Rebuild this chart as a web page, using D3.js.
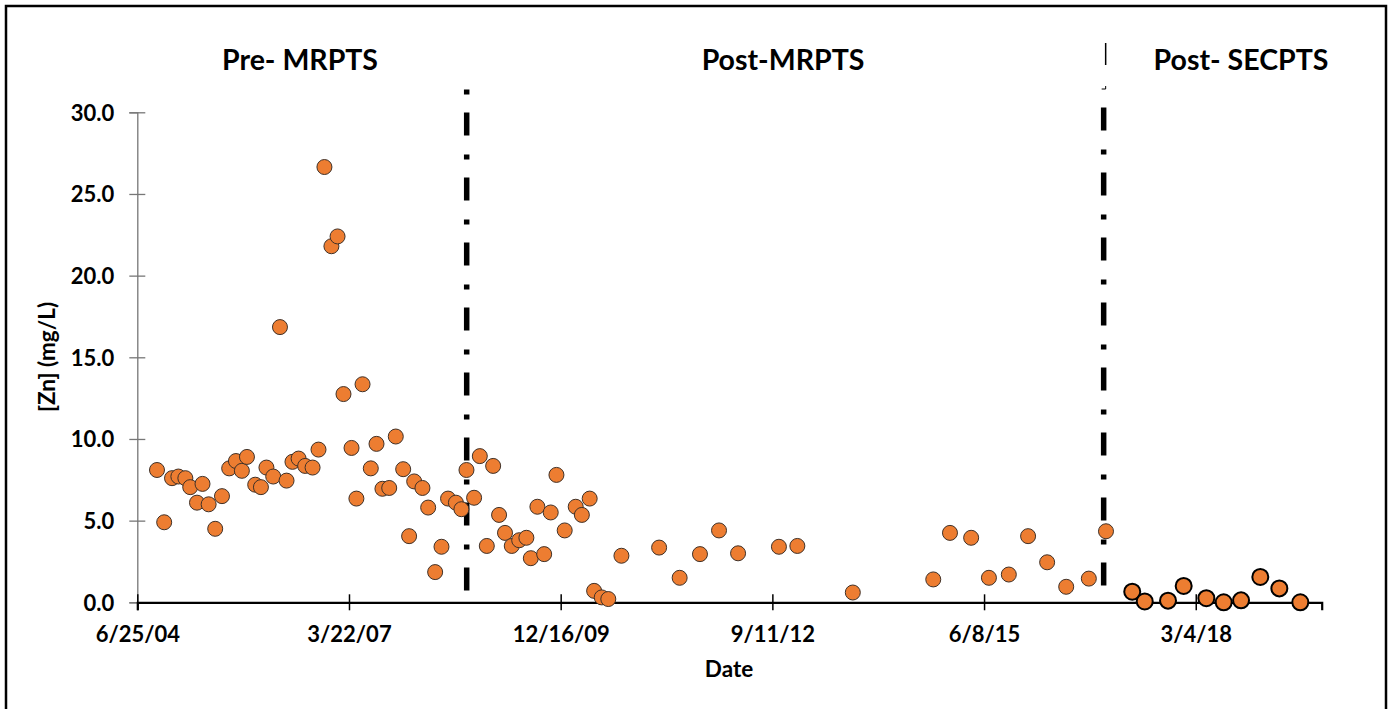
<!DOCTYPE html>
<html>
    <head>
        <meta charset="utf-8">
        <style>
        html, body {
            margin: 0px;
            background: #fff;
        }
        svg {
            display: block;
        }
        text {
            font-family: Lato, "Open Sans", sans-serif;
            font-weight: bold;
            fill: #000;
        }
        </style>
    </head>
    <body>
        <svg class="chart" width="1392" height="709"></svg>
        <script src="https://d3js.org/d3.v7.min.js"></script>
        <script>
            // Pre-MRPTS and Post-MRPTS samples
            var mrptsDates = [
                "2004-09-26", "2004-10-30", "2004-12-06", "2005-01-05", "2005-02-07", "2005-03-02",
                "2005-04-03", "2005-04-29", "2005-05-28", "2005-06-28", "2005-07-30", "2005-09-02",
                "2005-10-04", "2005-11-01", "2005-11-25", "2006-01-03", "2006-01-30", "2006-02-25",
                "2006-03-29", "2006-04-30", "2006-05-31", "2006-06-28", "2006-07-27", "2006-08-27",
                "2006-10-01", "2006-10-29", "2006-11-26", "2006-12-29", "2007-01-27", "2007-02-24",
                "2007-04-03", "2007-04-26", "2007-05-25", "2007-07-03", "2007-07-30", "2007-08-27",
                "2007-09-28", "2007-10-29", "2007-12-03", "2007-12-31", "2008-01-24", "2008-03-03",
                "2008-03-30", "2008-05-02", "2008-06-01", "2008-07-02", "2008-08-08", "2008-09-03",
                "2008-09-27", "2008-11-02", "2008-11-29", "2009-01-01", "2009-01-31", "2009-02-28",
                "2009-03-28", "2009-04-29", "2009-06-03", "2009-07-07", "2009-07-28", "2009-08-28",
                "2009-09-29", "2009-10-30", "2009-11-26", "2010-01-04", "2010-02-25", "2010-03-26",
                "2010-05-02", "2010-05-23", "2010-06-28", "2010-07-29", "2010-09-29", "2011-03-26",
                "2011-07-01", "2011-10-05", "2012-01-03", "2012-04-02", "2012-10-12", "2013-01-07",
                "2013-09-26", "2014-10-11", "2014-12-29", "2015-04-08", "2015-07-01", "2015-10-03",
                "2016-01-02", "2016-04-01", "2016-06-30", "2016-10-15", "2017-01-04"
            ];
            var mrptsZn = [
                8.1, 4.9, 7.6, 7.7, 7.6, 7.05,
                6.1, 7.25, 6.0, 4.5, 6.5, 8.2,
                8.65, 8.05, 8.9, 7.2, 7.05, 8.25,
                7.7, 16.85, 7.45, 8.6, 8.8, 8.35,
                8.25, 9.35, 26.65, 21.8, 22.4, 12.75,
                9.45, 6.35, 13.35, 8.2, 9.7, 6.95,
                7.0, 10.15, 8.15, 4.05, 7.4, 7.0,
                5.8, 1.85, 3.4, 6.35, 6.1, 5.7,
                8.1, 6.4, 8.95, 3.45, 8.35, 5.35,
                4.25, 3.45, 3.8, 3.95, 2.7, 5.85,
                2.95, 5.5, 7.8, 4.4, 5.85, 5.35,
                6.35, 0.7, 0.3, 0.2, 2.85, 3.35,
                1.5, 2.95, 4.4, 3.0, 3.4, 3.45,
                0.6, 1.4, 4.25, 3.95, 1.5, 1.7,
                4.05, 2.45, 0.95, 1.45, 4.35
            ];

            // Post-SECPTS samples
            var secptsDates = [
                "2017-05-08", "2017-07-06", "2017-10-24", "2018-01-06", "2018-04-23",
                "2018-07-14", "2018-10-04", "2019-01-03", "2019-04-03", "2019-07-11"
            ];
            var secptsZn = [0.65, 0.05, 0.1, 1.0, 0.25, 0.0, 0.12, 1.55, 0.85, 0.0];

            var periodNames = ["Pre- MRPTS", "Post-MRPTS", "Post- SECPTS"];
            var eventDates = ["2008-09-28", "2016-12-24"];   // treatment system start-ups
            var xTickDates = ["2004-06-25", "2007-03-22", "2009-12-16", "2012-09-11", "2015-06-08", "2018-03-04"];
            var yTicks = [0, 5, 10, 15, 20, 25, 30];
            var xDomain = ["2004-06-25", "2019-10-20"];

            var parse = d3.utcParse("%Y-%m-%d");
            var fmt = d3.utcFormat("%-m/%-d/%y");

            var svg = d3.select(".chart");

            // outer frame
            svg.append("rect")
               .attr("x", 6).attr("y", 6)
               .attr("width", 1380).attr("height", 720)
               .attr("fill", "#fff")
               .attr("stroke", "#000")
               .attr("stroke-width", 2.5);

            var x = d3.scaleUtc()
                      .domain(xDomain.map(parse))
                      .range([137.3, 1321.7]);
            var y = d3.scaleLinear()
                      .domain([0, 30])
                      .range([602.3, 112.3]);

            // y axis (grey, crossing ticks)
            var yAxis = svg.append("g")
                .attr("transform", "translate(" + x.range()[0] + ",0)")
                .call(d3.axisLeft(y).tickValues(yTicks).tickFormat(d3.format(".1f")).tickSizeOuter(0).tickSize(8));
            yAxis.select(".domain").attr("stroke", "#777").attr("stroke-width", 1.3);
            yAxis.selectAll(".tick line").attr("x2", 8).attr("x1", -8).attr("stroke", "#777").attr("stroke-width", 1.3);
            yAxis.selectAll(".tick text")
                 .attr("x", -23).attr("dy", "0.36em")
                 .style("font-size", "22px");

            // x axis (black, crossing ticks)
            var xAxis = svg.append("g")
                .attr("transform", "translate(0," + y(0) + ")")
                .call(d3.axisBottom(x).tickValues(xTickDates.map(parse)).tickFormat(fmt).tickSizeOuter(0).tickSize(8));
            xAxis.select(".domain").attr("stroke", "#000").attr("stroke-width", 2.2);
            xAxis.selectAll(".tick line").attr("y1", -8).attr("y2", 8).attr("stroke", "#000").attr("stroke-width", 1.5);
            xAxis.selectAll(".tick text")
                 .attr("y", 40).attr("dy", null)
                 .style("font-size", "22px");
            svg.selectAll(".tick text").attr("font-family", null).attr("font-size", null);

            // axis titles
            svg.append("text")
               .attr("x", 729).attr("y", 677)
               .attr("text-anchor", "middle")
               .style("font-size", "22.5px")
               .text("Date");
            svg.append("text")
               .attr("transform", "translate(55,357) rotate(-90)")
               .attr("text-anchor", "middle")
               .style("font-size", "22.5px")
               .text("[Zn] (mg/L)");

            // period labels
            var labelX = [300, 783, 1241];
            svg.selectAll(".period")
               .data(periodNames)
               .enter().append("text")
               .attr("class", "period")
               .attr("x", function(d, i) { return labelX[i]; })
               .attr("y", 70)
               .attr("text-anchor", "middle")
               .style("font-size", "28.5px")
               .text(function(d) { return d; });

            // dash-dot separators
            var ev = eventDates.map(parse);
            svg.append("line")
               .attr("x1", x(ev[0])).attr("x2", x(ev[0]))
               .attr("y1", y(31.4)).attr("y2", y(0))
               .attr("stroke", "#000").attr("stroke-width", 5.5)
               .attr("stroke-dasharray", "5,18,23,19");
            svg.append("line")
               .attr("x1", x(ev[1])).attr("x2", x(ev[1]))
               .attr("y1", y(30.3)).attr("y2", y(0))
               .attr("stroke", "#000").attr("stroke-width", 5.5)
               .attr("stroke-dasharray", "23,19,5,18");
            svg.append("line")
               .attr("x1", x(ev[1]) + 2).attr("x2", x(ev[1]) + 2)
               .attr("y1", 43).attr("y2", 65)
               .attr("stroke", "#000").attr("stroke-width", 1.5);
            svg.append("path")
               .attr("d", "M" + (x(ev[1]) - 2) + ",89H" + (x(ev[1]) + 2) + "V86")
               .attr("fill", "none")
               .attr("stroke", "#000").attr("stroke-width", 1);

            // markers
            var mrpts = mrptsDates.map(function(d, i) { return {date: parse(d), zn: mrptsZn[i]}; });
            var secpts = secptsDates.map(function(d, i) { return {date: parse(d), zn: secptsZn[i]}; });

            svg.append("g").selectAll("circle")
               .data(mrpts)
               .enter().append("circle")
               .attr("cx", function(d) { return x(d.date); })
               .attr("cy", function(d) { return y(d.zn); })
               .attr("r", 7.5)
               .attr("fill", "#ED7D31")
               .attr("stroke", "#3f3128")
               .attr("stroke-width", 1);

            svg.append("g").selectAll("circle")
               .data(secpts)
               .enter().append("circle")
               .attr("cx", function(d) { return x(d.date); })
               .attr("cy", function(d) { return y(d.zn); })
               .attr("r", 8)
               .attr("fill", "#ED7D31")
               .attr("stroke", "#000")
               .attr("stroke-width", 2);
        </script>
    </body>
</html>
